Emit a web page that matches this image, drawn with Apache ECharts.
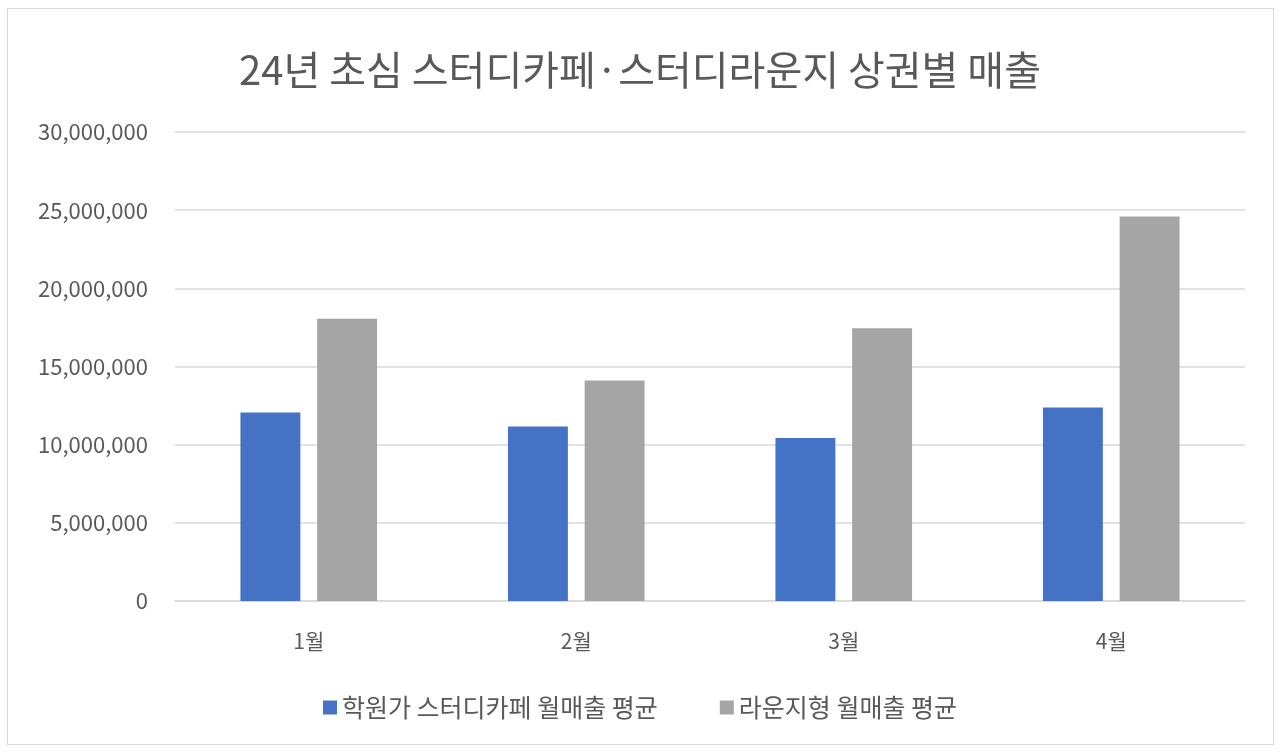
<!DOCTYPE html>
<html>
<head>
<meta charset="utf-8">
<script src="https://cdn.jsdelivr.net/npm/echarts@6/dist/echarts.min.js"></script>
<style>
  html, body { margin: 0; padding: 0; background: #fff; }
  #frame { position: absolute; left: 7px; top: 8px; width: 1267px; height: 737px; border: 1px solid #d9d9d9; box-sizing: border-box; }
  #chart { position: absolute; left: 0; top: 0; width: 1280px; height: 752px; }
</style>
</head>
<body>
<div id="frame"></div>
<div id="chart"></div>
<script>
var months = ['1월', '2월', '3월', '4월'];
var academyCafe = [12050000, 11170000, 10420000, 12370000];
var loungeType = [18050000, 14110000, 17450000, 24600000];
var seriesNames = ['학원가 스터디카페 월매출 평균', '라운지형 월매출 평균'];

var font = '"Noto Sans CJK KR", "Noto Sans", sans-serif';
var myChart = echarts.init(document.getElementById('chart'));
var option = {
    backgroundColor: 'transparent',
    title: {
        text: '24년 초심 스터디카페·스터디라운지 상권별 매출',
        left: 'center',
        top: 45,
        textStyle: {
            color: '#595959',
            fontSize: 40,
            fontWeight: 'normal',
            fontFamily: font
        }
    },
    legend: {
        data: seriesNames,
        top: 690,
        left: 'center',
        icon: 'rect',
        itemWidth: 14,
        itemHeight: 14,
        itemGap: 62,
        textStyle: {
            color: '#595959',
            fontSize: 25,
            fontFamily: font
        }
    },
    grid: {
        left: 175,
        right: 35,
        top: 132,
        bottom: 151,
        containLabel: false
    },
    xAxis: [{
        type: 'category',
        data: months,
        axisLine: { show: true, lineStyle: { color: '#d9d9d9', width: 1.5 } },
        axisTick: { show: false },
        axisLabel: {
            color: '#595959',
            fontSize: 21,
            fontFamily: font,
            margin: 30
        }
    }],
    yAxis: [{
        type: 'value',
        min: 0,
        max: 30000000,
        interval: 5000000,
        axisLine: { show: false },
        axisTick: { show: false },
        axisLabel: {
            color: '#595959',
            fontSize: 22,
            fontFamily: font,
            margin: 27,
            formatter: function (v) { return v.toLocaleString('en-US'); }
        },
        splitLine: {
            show: true,
            lineStyle: { color: '#d9d9d9', width: 1.5 }
        }
    }],
    series: [{
        name: seriesNames[0],
        type: 'bar',
        barWidth: '22.4%',
        barGap: '28%',
        itemStyle: { color: '#4472C4' },
        data: academyCafe
    }, {
        name: seriesNames[1],
        type: 'bar',
        barWidth: '22.4%',
        barGap: '28%',
        itemStyle: { color: '#A5A5A5' },
        data: loungeType
    }]
};
myChart.setOption(option);
</script>
</body>
</html>
